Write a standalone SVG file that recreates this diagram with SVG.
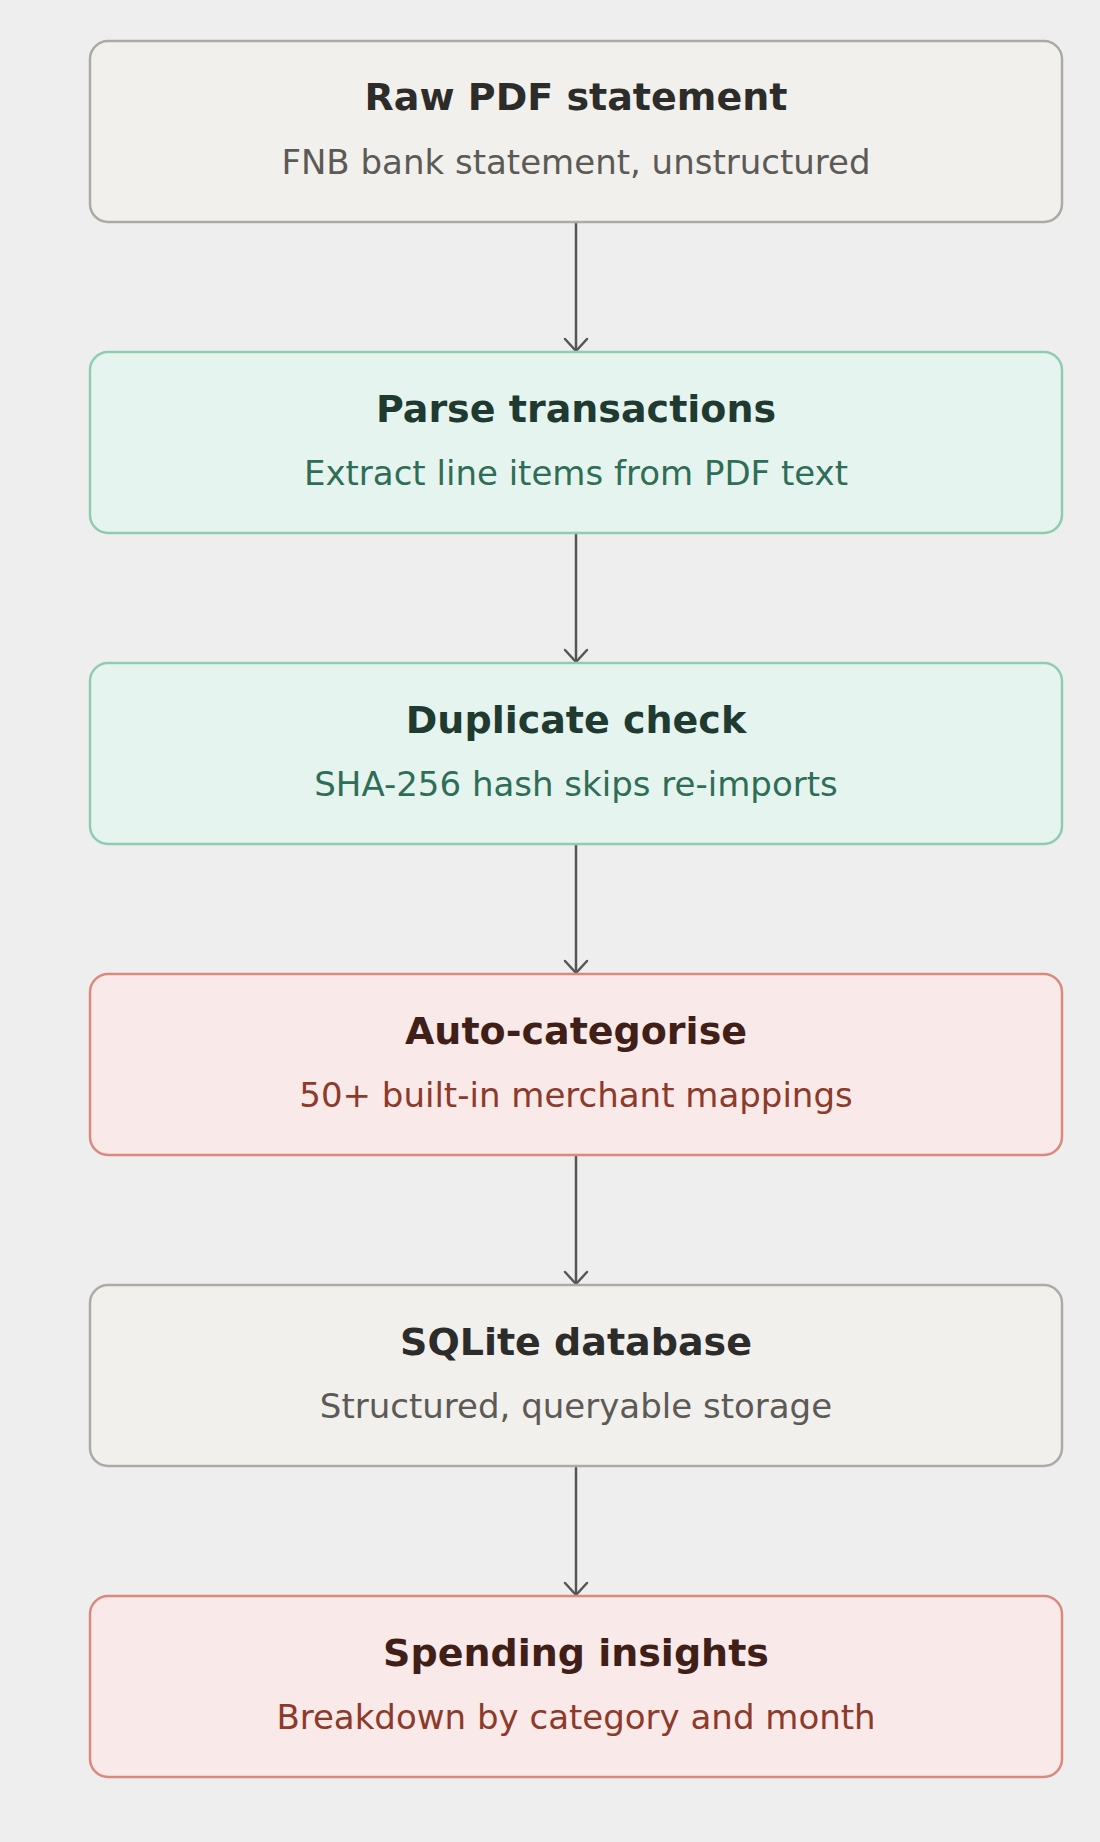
<svg xmlns="http://www.w3.org/2000/svg" width="1100" height="1842" viewBox="0 0 1100 1842">
  <style>
    .box { stroke-width: 2.5; }
    .neutral { fill: #f2f0ec; stroke: #acaaa4; }
    .green { fill: #e6f4ef; stroke: #8fcdb1; }
    .red { fill: #f9e9e9; stroke: #d98a7c; }
    .title { font-family: "DejaVu Sans", "Liberation Sans", sans-serif; font-weight: bold; font-size: 38px; text-anchor: middle; }
    .sub { font-family: "DejaVu Sans", "Liberation Sans", sans-serif; font-size: 34px; text-anchor: middle; }
    .t-neutral { fill: #2c2c2a; }
    .s-neutral { fill: #5c5a56; }
    .t-green { fill: #1f3a30; }
    .s-green { fill: #2f6e56; }
    .t-red { fill: #3f1f18; }
    .s-red { fill: #8c3a2a; }
    .conn { stroke: #555555; stroke-width: 2.5; fill: none; }
  </style>
  <defs>
    <marker id="arrow" viewBox="0 0 16 26" refX="14" refY="13" markerWidth="16" markerHeight="26" markerUnits="userSpaceOnUse" orient="auto">
      <path d="M2,2 L14,13 L2,24" fill="none" stroke="#555555" stroke-width="2.5" stroke-linecap="round" stroke-linejoin="round"/>
    </marker>
  </defs>
  <rect x="0" y="0" width="1100" height="1842" fill="#efeeee"/>

  <g id="connectors">
    <line class="conn" x1="576" y1="223" x2="576" y2="351" marker-end="url(#arrow)"/>
    <line class="conn" x1="576" y1="534" x2="576" y2="662" marker-end="url(#arrow)"/>
    <line class="conn" x1="576" y1="845" x2="576" y2="973" marker-end="url(#arrow)"/>
    <line class="conn" x1="576" y1="1156" x2="576" y2="1284" marker-end="url(#arrow)"/>
    <line class="conn" x1="576" y1="1467" x2="576" y2="1595" marker-end="url(#arrow)"/>
  </g>

  <g id="raw-pdf">
    <rect class="box neutral" x="90" y="41" width="972" height="181" rx="18"/>
    <text class="title t-neutral" x="576" y="110">Raw PDF statement</text>
    <text class="sub s-neutral" x="576" y="174">FNB bank statement, unstructured</text>
  </g>
  <g id="parse">
    <rect class="box green" x="90" y="352" width="972" height="181" rx="18"/>
    <text class="title t-green" x="576" y="422">Parse transactions</text>
    <text class="sub s-green" x="576" y="485">Extract line items from PDF text</text>
  </g>
  <g id="duplicate">
    <rect class="box green" x="90" y="663" width="972" height="181" rx="18"/>
    <text class="title t-green" x="576" y="733">Duplicate check</text>
    <text class="sub s-green" x="576" y="796">SHA-256 hash skips re-imports</text>
  </g>
  <g id="categorise">
    <rect class="box red" x="90" y="974" width="972" height="181" rx="18"/>
    <text class="title t-red" x="576" y="1044">Auto-categorise</text>
    <text class="sub s-red" x="576" y="1107">50+ built-in merchant mappings</text>
  </g>
  <g id="sqlite">
    <rect class="box neutral" x="90" y="1285" width="972" height="181" rx="18"/>
    <text class="title t-neutral" x="576" y="1355">SQLite database</text>
    <text class="sub s-neutral" x="576" y="1418">Structured, queryable storage</text>
  </g>
  <g id="insights">
    <rect class="box red" x="90" y="1596" width="972" height="181" rx="18"/>
    <text class="title t-red" x="576" y="1666">Spending insights</text>
    <text class="sub s-red" x="576" y="1729">Breakdown by category and month</text>
  </g>
</svg>
